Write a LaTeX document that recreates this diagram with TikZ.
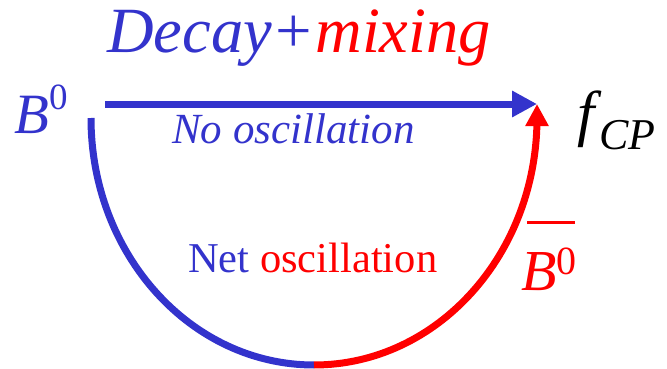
\documentclass[tikz,border=0pt]{standalone}
\usepackage{fontspec}
\setmainfont{LiberationSerif}[Extension=.ttf, UprightFont=*-Regular,
  ItalicFont=*-Italic, BoldFont=*-Bold, BoldItalicFont=*-BoldItalic]
\usetikzlibrary{arrows.meta,positioning}
\definecolor{mixblue}{RGB}{51,51,204}
\definecolor{mixred}{RGB}{255,0,0}

\begin{document}
\begin{tikzpicture}[x=1pt, y=-1pt, >=Triangle,
  lbl/.style={inner sep=0pt, anchor=base west},
  flow/.style={line width=7pt}]
\path[use as bounding box] (0,0) rectangle (667,369);
% texts
\node[lbl, font=\fontsize{64.5}{70}\selectfont\itshape] (title) at (107,53)
  {\textcolor{mixblue}{Decay+}\textcolor{mixred}{mixing}};
\node[lbl, text=mixblue, font=\fontsize{57}{60}\selectfont] (B0) at (14,133)
  {\textit{B}\raisebox{24pt}{\fontsize{37}{37}\selectfont 0}};
\node[lbl, text=mixred, font=\fontsize{58}{66}\selectfont, align=left] (Bbar) at (521,290)
  {\hspace*{6pt}\rule{48pt}{3pt}\\\textit{B}\raisebox{16pt}{\fontsize{40}{40}\selectfont 0}};
\node[lbl, font=\fontsize{62}{66}\selectfont\itshape] (fcp) at (577,134)
  {f\kern5pt\raisebox{-16pt}{\fontsize{44}{44}\selectfont CP}};
\node[lbl, text=mixblue, font=\fontsize{43}{48}\selectfont\itshape] (nolbl) at (172,143) {No oscillation};
\node[lbl, font=\fontsize{42.5}{48}\selectfont] (netlbl) at (188,272)
  {\textcolor{mixblue}{Net} \textcolor{mixred}{oscillation}};
% paths
\coordinate (meet) at (537,104);
\coordinate (start) at (105,104);
\coordinate (arcL) at (91,118);
\draw[flow, mixblue, -{Triangle[length=25pt,width=25pt]}] (start) -- (meet);
\draw[flow, mixblue] (arcL) arc[start angle=180, end angle=90, x radius=223, y radius=247]
  coordinate (bottom);
\draw[flow, mixred, -{Triangle[length=22pt,width=22pt]}] (bottom)
  arc[start angle=90, end angle=0, x radius=223, y radius=247] -- (meet);
\end{tikzpicture}
\end{document}
